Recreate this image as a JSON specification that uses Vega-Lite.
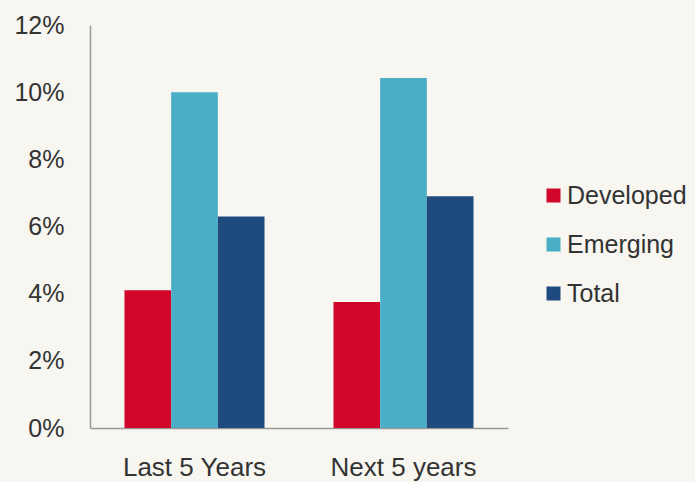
{
  "$schema": "https://vega.github.io/schema/vega-lite/v6.json",
  "autosize": {"type": "none"},
  "padding": {"left": 90, "top": 25, "right": 187, "bottom": 54},
  "width": 418,
  "height": 403,
  "background": "#f7f6f0",
  "config": {
    "view": {"stroke": null},
    "font": "Liberation Sans"
  },
  "data": {
    "values": [
      {"period": "Last 5 Years", "group": "Developed", "value": 0.041},
      {"period": "Last 5 Years", "group": "Emerging", "value": 0.100},
      {"period": "Last 5 Years", "group": "Total", "value": 0.063},
      {"period": "Next 5 years", "group": "Developed", "value": 0.0375},
      {"period": "Next 5 years", "group": "Emerging", "value": 0.1042},
      {"period": "Next 5 years", "group": "Total", "value": 0.069}
    ]
  },
  "mark": {"type": "bar"},
  "encoding": {
    "x": {
      "field": "period",
      "type": "nominal",
      "sort": null,
      "scale": {"paddingInner": 0.33, "paddingOuter": 0.165},
      "axis": {
        "title": null,
        "labelAngle": 0,
        "labelFontSize": 26,
        "labelColor": "#333333",
        "labelPadding": 26,
        "ticks": false,
        "domainColor": "#999999",
        "domainWidth": 1.5
      }
    },
    "xOffset": {"field": "group", "type": "nominal", "sort": ["Developed", "Emerging", "Total"], "scale": {"paddingInner": 0, "paddingOuter": 0}},
    "y": {
      "field": "value",
      "type": "quantitative",
      "scale": {"domain": [0, 0.12], "nice": false},
      "axis": {
        "title": null,
        "format": ".0%",
        "values": [0, 0.02, 0.04, 0.06, 0.08, 0.1, 0.12],
        "grid": false,
        "ticks": false,
        "labelFontSize": 25,
        "labelColor": "#333333",
        "labelPadding": 26,
        "domainColor": "#999999",
        "domainWidth": 1.5
      }
    },
    "color": {
      "field": "group",
      "type": "nominal",
      "sort": ["Developed", "Emerging", "Total"],
      "scale": {"domain": ["Developed", "Emerging", "Total"], "range": ["#d0062a", "#4aaec7", "#1f4a7e"]},
      "legend": {
        "title": null,
        "orient": "none",
        "legendX": 451,
        "legendY": 158,
        "symbolType": "square",
        "symbolSize": 196,
        "symbolStrokeWidth": 0,
        "labelFontSize": 25,
        "labelColor": "#333333",
        "labelOffset": 1,
        "labelLimit": 200,
        "rowPadding": 23
      }
    }
  }
}
